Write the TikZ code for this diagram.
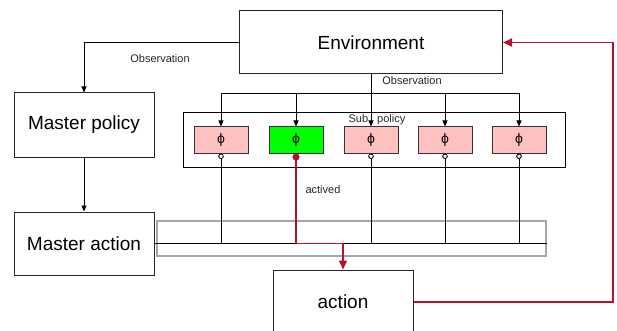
\documentclass[tikz,border=0pt]{standalone}
\usepackage{fontspec}
\setmainfont{Liberation Sans}
\usetikzlibrary{arrows.meta, positioning}
\definecolor{loopRed}{HTML}{B8122B}
\definecolor{phiPink}{HTML}{FFC0C0}
\definecolor{phiGreen}{HTML}{00FF00}
\tikzset{
  bigbox/.style={draw=black!85, line width=1pt, minimum width=140pt, minimum height=63pt,
    inner sep=0pt, font=\fontsize{19}{22}\selectfont},
  phibox/.style={draw=black!80, line width=1pt, fill=phiPink, minimum width=54pt,
    minimum height=26pt, inner sep=0pt, font=\fontsize{14}{16}\selectfont},
  link/.style={line width=0.9pt, -{Triangle[length=6pt,width=5pt]}},
  redlink/.style={loopRed, line width=1.8pt, -{Triangle[length=9pt,width=8pt]}},
  lbl/.style={font=\fontsize{11}{13}\selectfont, text=black!85},
}
\begin{document}
\begin{tikzpicture}[x=1pt, y=-1pt]
  \useasboundingbox (0,0) rectangle (617,331);

  % main boxes
  \node[bigbox, minimum width=263pt] (env) at (371, 42.5) {Environment};
  \node[bigbox, minimum height=64pt] (mpolicy) at (84, 125) {Master policy};
  \node[bigbox] (maction) at (84, 243.5) {Master action};
  \node[bigbox, minimum width=140pt, minimum height=64pt] (action) at (343, 302) {action};

  % sub policies
  \node[draw, line width=1pt, minimum width=382pt, minimum height=54pt] (sub) at (374, 140) {};
  \node[lbl] (sublbl) at (377, 120) {Sub\hspace{9pt}policy};
  \foreach \i/\x in {1/221, 2/296, 3/371, 4/445, 5/519}
    \node[phibox] (p\i) at (\x, 140) {ϕ};
  \node[phibox, fill=phiGreen] at (p2) {ϕ};

  % observation
  \coordinate (obs) at (371, 93);
  \draw[line width=0.9pt] (p1.north |- obs) -- (p5.north |- obs);
  \foreach \i in {1,2,4,5}
    \draw[link] (p\i.north |- obs) -- (p\i.north);
  \draw[link] (env.south) -- (p3.north);
  \node[lbl] (obslbl) at (412, 81) {Observation};
  \draw[link] (env.west) -| (mpolicy.north);
  \node[lbl] (obslbl2) at (160, 59) {Observation};
  \draw[link] (mpolicy) -- (maction);

  % action bar
  \node[draw=gray!70, line width=1.3pt, minimum width=389pt, minimum height=35pt] (bar) at (351.5, 238.5) {};
  \coordinate (busend) at (bar.east |- maction.east);
  \draw[line width=0.9pt] (maction.east) -- (busend);
  \foreach \i in {1,3,4,5}
    \draw[line width=0.9pt, {Circle[open,fill=white,length=5.5pt]}-] (p\i.south) -- (p\i.south |- busend);

  % active branch
  \draw[redlink, {Circle[length=7pt]}-{Triangle[length=9pt,width=8pt]}]
    (p2.south) -- (p2.south |- busend) -| (action.north);
  \node[lbl, anchor=west] (actlbl) at (302, 190) {actived};

  % feedback
  \coordinate (loop) at (613, 0);
  \draw[redlink] (action.east) -- (action.east -| loop) |- (env.east);
\end{tikzpicture}
\end{document}
